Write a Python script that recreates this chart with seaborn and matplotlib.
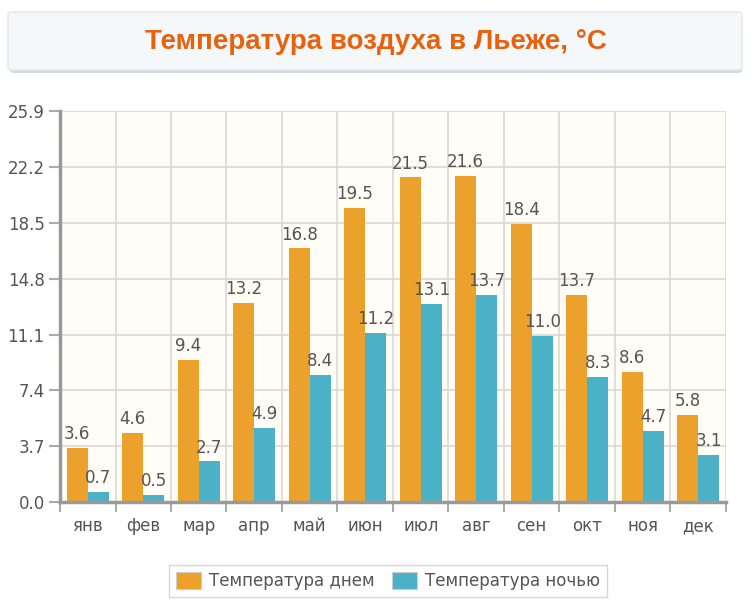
import matplotlib
matplotlib.use("Agg")
import matplotlib.pyplot as plt
import seaborn as sns
import pandas as pd
import numpy as np
from matplotlib.patches import FancyBboxPatch, Patch

months = ["янв", "фев", "мар", "апр", "май", "июн", "июл", "авг", "сен", "окт", "ноя", "дек"]
day_temp = [3.6, 4.6, 9.4, 13.2, 16.8, 19.5, 21.5, 21.6, 18.4, 13.7, 8.6, 5.8]
night_temp = [0.7, 0.5, 2.7, 4.9, 8.4, 11.2, 13.1, 13.7, 11.0, 8.3, 4.7, 3.1]
series_names = ["Температура днем", "Температура ночью"]
yticks = [0.0, 3.7, 7.4, 11.1, 14.8, 18.5, 22.2, 25.9]
title = "Температура воздуха в Льеже, °C"

df = pd.DataFrame({
    "month": months * 2,
    "temp": day_temp + night_temp,
    "series": [series_names[0]] * 12 + [series_names[1]] * 12,
})

sns.set_theme(style="white")
plt.rcParams['font.family'] = ['DejaVu Sans']

fig = plt.figure(figsize=(7.52, 6.05), dpi=100)
ax = fig.add_axes([0.0798, 0.170, 0.8855, 0.6465])
ax.set_facecolor("#FFFDF5")

palette = {series_names[0]: "#EBA12B", series_names[1]: "#4BB1C7"}
sns.barplot(data=df, x="month", y="temp", hue="series", palette=palette,
            width=0.76, saturation=1, ax=ax, legend=False, linewidth=0)

for cont in ax.containers:
    ax.bar_label(cont, fmt="%.1f", padding=3.5, fontsize=12, color="#555555")

ax.set_ylim(0, 25.9)
ax.set_xlim(-0.5, 11.5)
ax.set_yticks(yticks)
ax.set_yticklabels([f"{v:.1f}" for v in yticks])
ax.set_xticks(np.arange(-0.5, 12, 1), minor=True)
ax.grid(True, axis="y", color="#D8D8D8", linewidth=1.2)
ax.grid(True, axis="x", which="minor", color="#D8D8D8", linewidth=1.2)
ax.set_axisbelow(True)
ax.tick_params(axis="x", which="major", length=0, pad=11, labelsize=12, labelcolor="#555555")
ax.tick_params(axis="x", which="minor", length=7, width=1.5, color="#AAAAAA", direction="out", bottom=True)
ax.tick_params(axis="y", length=8, width=1.5, color="#AAAAAA", direction="out", left=True, labelsize=12, labelcolor="#555555", pad=3)
ax.set_xlabel("")
ax.set_ylabel("")
for s in ["top", "right"]:
    ax.spines[s].set_visible(False)
for s in ["left", "bottom"]:
    ax.spines[s].set_color("#999999")
    ax.spines[s].set_linewidth(2.5)

# Title box
W, H = 752, 605
shadow = FancyBboxPatch((10 / W, 1 - 73 / H), 732 / W, 58 / H,
                        boxstyle="round,pad=0,rounding_size=0.004",
                        transform=fig.transFigure, facecolor="#D5D8DC", edgecolor="none", zorder=0)
fig.patches.append(shadow)
box = FancyBboxPatch((8 / W, 1 - 70 / H), 734 / W, 58 / H,
                     boxstyle="round,pad=0,rounding_size=0.004",
                     transform=fig.transFigure, facecolor="#F5F8FB", edgecolor="#E3E6EA",
                     linewidth=1, zorder=1)
fig.patches.append(box)
fig.text(0.5, 1 - 42 / H, title, ha="center", va="center", fontsize=20,
         fontweight="bold", color="#E8620E", family=["Liberation Sans", "DejaVu Sans"], zorder=2)

# Legend
handles = [Patch(facecolor=palette[n], edgecolor="#CCCCCC", linewidth=0.8) for n in series_names]
leg = fig.legend(handles, series_names, loc="center", bbox_to_anchor=(388 / W, 1 - 581 / H),
                 ncol=2, frameon=True, fontsize=12, handlelength=1.5, handleheight=1.2,
                 columnspacing=1.0, handletextpad=0.5, borderpad=0.4, borderaxespad=0,
                 fancybox=False)
leg.get_frame().set_edgecolor("#CCCCCC")
leg.get_frame().set_linewidth(1)
for t in leg.get_texts():
    t.set_color("#555555")

fig.savefig("out.png", dpi=100)
